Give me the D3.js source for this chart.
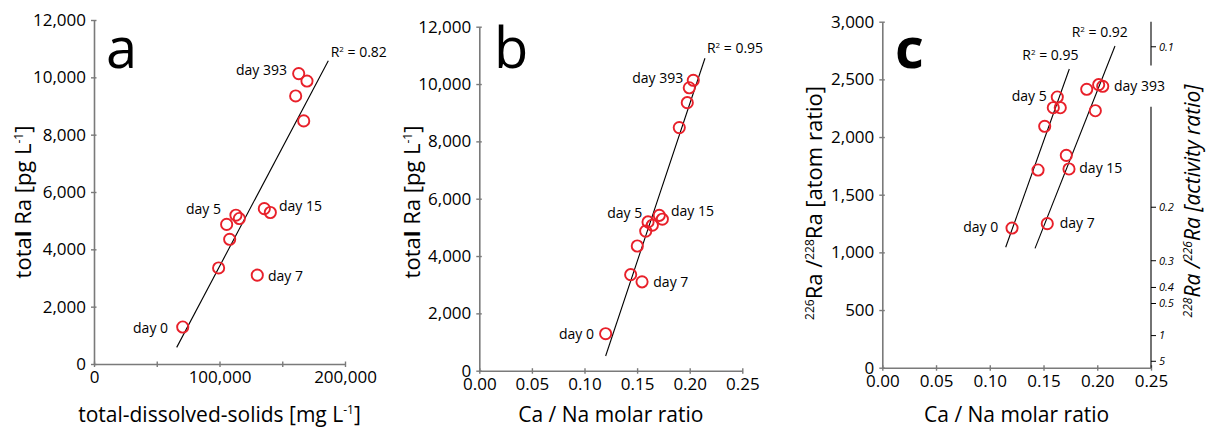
<!DOCTYPE html>
<html>
<head>
<meta charset="utf-8">
<script src="https://cdn.jsdelivr.net/npm/d3@7"></script>
<style>
  body { margin: 0; background: #fff; }
  text { font-family: "Open Sans", "Noto Sans", sans-serif; fill: #000; }
</style>
</head>
<body>
<div id="chart"></div>
<script>
// Data (13 samples)
var tds = [70700, 130100, 99300, 108100, 105700, 115800, 113100, 140500, 135700, 167100, 160700, 169700, 163100];
var totalRa = [1290, 3100, 3350, 4350, 4870, 5075, 5190, 5285, 5420, 8480, 9350, 9870, 10130];
var caNaB = [0.1201, 0.1547, 0.1439, 0.1502, 0.1582, 0.1645, 0.1604, 0.1740, 0.1711, 0.1901, 0.1977, 0.1996, 0.2034];

// panel c
var caNaC = [0.1207, 0.1449, 0.1511, 0.1628, 0.1591, 0.1656, 0.1535, 0.1712, 0.1737, 0.1902, 0.1982, 0.2013, 0.2051];
var atomRatio = [1211, 1714, 2093, 2347, 2254, 2254, 1249, 1841, 1723, 2414, 2228, 2454, 2440];

// fit lines (end points, data units)
var fitA = [[65900, 580], [186700, 10580]];
var fitB = [[0.1201, 512], [0.2145, 10900]];
var fitC1 = [[0.1148, 1044], [0.1740, 2590]];
var fitC2 = [[0.1421, 1035], [0.2165, 2789]];

// annotations: text, x, y (data units), anchor
var notesA = [
  {t: "day 393", x: 153800, y: 10080, a: "end"},
  {t: "day 5", x: 101200, y: 5233, a: "end"},
  {t: "day 15", x: 147400, y: 5337, a: "start"},
  {t: "day 7", x: 138600, y: 2895, a: "start"},
  {t: "day 0", x: 59000, y: 1081, a: "end"}
];
var notesB = [
  {t: "day 393", x: 0.1939, y: 10036, a: "end"},
  {t: "day 5", x: 0.1549, y: 5327, a: "end"},
  {t: "day 15", x: 0.1822, y: 5397, a: "start"},
  {t: "day 7", x: 0.1654, y: 2930, a: "start"},
  {t: "day 0", x: 0.1090, y: 1106, a: "end"}
];
var notesC = [
  {t: "day 393", x: 0.2156, y: 2402, a: "start"},
  {t: "day 5", x: 0.1530, y: 2313, a: "end"},
  {t: "day 15", x: 0.1833, y: 1686, a: "start"},
  {t: "day 7", x: 0.1651, y: 1214, a: "start"},
  {t: "day 0", x: 0.1079, y: 1177, a: "end"}
];
var r2A = [{v: "0.82", x: 188600, y: 10720}];
var r2B = [{v: "0.95", x: 0.2164, y: 11093}];
var r2C = [{v: "0.95", x: 0.1303, y: 2668}, {v: "0.92", x: 0.1762, y: 2865}];

// ticks
var tdsTicks = [0, 50000, 100000, 150000, 200000];
var tdsTickLabels = ["0", "", "100,000", "", "200,000"];
var raTicks = [0, 2000, 4000, 6000, 8000, 10000, 12000];
var ratioTicks = [0, 0.05, 0.10, 0.15, 0.20, 0.25];
var atomTicks = [0, 500, 1000, 1500, 2000, 2500, 3000];
var activityTicks = [0.1, 0.2, 0.3, 0.4, 0.5, 1, 5];
var lambdaRatio = 1600 / 5.75; // 226Ra / 228Ra half-lives

var W = 1206, H = 427;
var svg = d3.select("#chart").append("svg")
  .attr("width", W).attr("height", H);

var axisColor = "#7a7a7a";

function styleAxis(g, horiz) {
  g.selectAll(".domain").attr("stroke", axisColor).attr("stroke-width", 1.6);
  var tl = g.selectAll(".tick line").attr("stroke", axisColor).attr("stroke-width", 1.4);
  // ticks cross the axis line
  if (horiz) tl.attr("y1", -2.5).attr("y2", 3);
  else tl.attr("x1", 2.5).attr("x2", -3);
  g.selectAll(".tick text").style("font-size", "17px").attr("fill", "#000");
}

function panel(cfg) {
  var x = d3.scaleLinear().domain(cfg.xDomain).range([cfg.left, cfg.right]);
  var y = d3.scaleLinear().domain(cfg.yDomain).range([cfg.bottom, cfg.top]);
  var g = svg.append("g");

  var xAxis = d3.axisBottom(x).tickValues(cfg.xTicks).tickSizeInner(3).tickSizeOuter(0).tickPadding(4)
    .tickFormat(cfg.xFormat);
  var yAxis = d3.axisLeft(y).tickValues(cfg.yTicks).tickSizeInner(3).tickSizeOuter(0).tickPadding(5)
    .tickFormat(d3.format(","));

  g.append("g").attr("transform", "translate(0," + cfg.bottom + ")").call(xAxis).call(styleAxis, true);
  g.append("g").attr("transform", "translate(" + cfg.left + ",0)").call(yAxis).call(styleAxis, false);

  // panel letter
  g.append("text")
    .attr("x", cfg.letterX).attr("y", 68)
    .style("font-size", "56px")
    .style("font-weight", cfg.letterWeight || "normal")
    .text(cfg.letter);

  // fit lines
  cfg.fits.forEach(function(f) {
    g.append("line")
      .attr("x1", x(f[0][0])).attr("y1", y(f[0][1]))
      .attr("x2", x(f[1][0])).attr("y2", y(f[1][1]))
      .attr("stroke", "#000").attr("stroke-width", 1.1);
  });

  // points
  g.selectAll("circle.pt")
    .data(cfg.xs.map(function(v, i) { return [v, cfg.ys[i]]; }))
    .enter().append("circle")
    .attr("cx", function(d) { return x(d[0]); })
    .attr("cy", function(d) { return y(d[1]); })
    .attr("r", 5.6)
    .attr("fill", "none")
    .attr("stroke", "#e8202a")
    .attr("stroke-width", 1.9);

  // day labels
  g.selectAll("text.note")
    .data(cfg.notes)
    .enter().append("text")
    .attr("x", function(d) { return x(d.x); })
    .attr("y", function(d) { return y(d.y); })
    .attr("text-anchor", function(d) { return d.a; })
    .style("font-size", "14px")
    .text(function(d) { return d.t; });

  // R2 labels
  cfg.r2.forEach(function(d) {
    var t = g.append("text")
      .attr("x", x(d.x)).attr("y", y(d.y))
      .style("font-size", "14px");
    t.append("tspan").text("R");
    t.append("tspan").attr("dy", -5).style("font-size", "8px").text("2");
    t.append("tspan").attr("dy", 5).text(" = " + d.v);
  });

  // x label
  var xl = g.append("text")
    .attr("x", (cfg.left + cfg.right) / 2 + (cfg.xLabelShift || 0))
    .attr("y", cfg.xLabelY)
    .attr("text-anchor", "middle")
    .style("font-size", "21px");
  cfg.xLabel(xl);

  // y label
  var yl = g.append("text")
    .attr("transform", "translate(" + cfg.yLabelX + "," + cfg.yLabelY + ") rotate(-90)")
    .attr("text-anchor", "middle")
    .style("font-size", "22px");
  cfg.yLabel(yl);

  return {x: x, y: y, g: g};
}

function raLabel(t) {
  t.append("tspan").text("tota");
  t.append("tspan").style("font-weight", "bold").text("l");
  t.append("tspan").text(" Ra [pg L");
  t.append("tspan").attr("dy", -8).style("font-size", "12px").text("-1");
  t.append("tspan").attr("dy", 8).text("]");
}

// panel a
panel({
  left: 94, right: 345, top: 20, bottom: 364,
  xDomain: [0, 200000], yDomain: [0, 12000],
  xTicks: tdsTicks, yTicks: raTicks,
  xFormat: function(d, i) { return tdsTickLabels[i]; },
  xs: tds, ys: totalRa,
  fits: [fitA], notes: notesA, r2: r2A,
  letter: "a", letterX: 106,
  xLabelY: 422, xLabelShift: 0,
  xLabel: function(t) {
    t.append("tspan").text("total-dissolved-solids [mg L");
    t.append("tspan").attr("dy", -8).style("font-size", "12px").text("-1");
    t.append("tspan").attr("dy", 8).text("]");
  },
  yLabelX: 31, yLabelY: 202,
  yLabel: raLabel
});

// panel b
panel({
  left: 479.3, right: 742.3, top: 26.7, bottom: 370.7,
  xDomain: [0, 0.25], yDomain: [0, 12000],
  xTicks: ratioTicks, yTicks: raTicks,
  xFormat: d3.format(".2f"),
  xs: caNaB, ys: totalRa,
  fits: [fitB], notes: notesB, r2: r2B,
  letter: "b", letterX: 494,
  xLabelY: 422, xLabelShift: 0,
  xLabel: function(t) { t.text("Ca / Na molar ratio"); },
  yLabelX: 420, yLabelY: 202,
  yLabel: raLabel
});

// panel c
var pc = panel({
  left: 882.3, right: 1151, top: 21.7, bottom: 367.7,
  xDomain: [0, 0.25], yDomain: [0, 3000],
  xTicks: ratioTicks, yTicks: atomTicks,
  xFormat: d3.format(".2f"),
  xs: caNaC, ys: atomRatio,
  fits: [fitC1, fitC2], notes: notesC, r2: r2C,
  letter: "c", letterX: 895, letterWeight: "bold",
  xLabelY: 422, xLabelShift: 0,
  xLabel: function(t) { t.text("Ca / Na molar ratio"); },
  yLabelX: 822, yLabelY: 203,
  yLabel: function(t) {
    t.append("tspan").attr("dy", -8).style("font-size", "12px").text("226");
    t.append("tspan").attr("dy", 8).text("Ra /");
    t.append("tspan").attr("dy", -8).style("font-size", "12px").text("228");
    t.append("tspan").attr("dy", 8).text("Ra [atom ratio]");
  }
});

// right axis: activity ratio = lambdaRatio / atom ratio
var yc = pc.y;
var rx = 1151;
var gap = [2620, 2262];
pc.g.append("line").attr("x1", rx).attr("x2", rx)
  .attr("y1", yc(3000)).attr("y2", yc(gap[0]))
  .attr("stroke", "#000").attr("stroke-width", 1.1);
pc.g.append("line").attr("x1", rx).attr("x2", rx)
  .attr("y1", yc(gap[1])).attr("y2", yc(0))
  .attr("stroke", "#000").attr("stroke-width", 1.1);
var rt = pc.g.selectAll("g.rtick").data(activityTicks).enter().append("g")
  .attr("transform", function(d) { return "translate(" + rx + "," + yc(lambdaRatio / d) + ")"; });
rt.append("line").attr("x1", 0).attr("x2", 5).attr("stroke", "#000").attr("stroke-width", 1);
rt.append("text").attr("x", 8).attr("dy", "0.35em")
  .style("font-size", "11px").style("font-style", "italic")
  .text(function(d) { return d; });

var ryl = pc.g.append("text")
  .attr("transform", "translate(1200,201) rotate(-90)")
  .attr("text-anchor", "middle")
  .style("font-size", "21px").style("font-style", "italic");
ryl.append("tspan").attr("dy", -8).style("font-size", "12px").text("228");
ryl.append("tspan").attr("dy", 8).text("Ra /");
ryl.append("tspan").attr("dy", -8).style("font-size", "12px").text("226");
ryl.append("tspan").attr("dy", 8).text("Ra [activity ratio]");
</script>
</body>
</html>
